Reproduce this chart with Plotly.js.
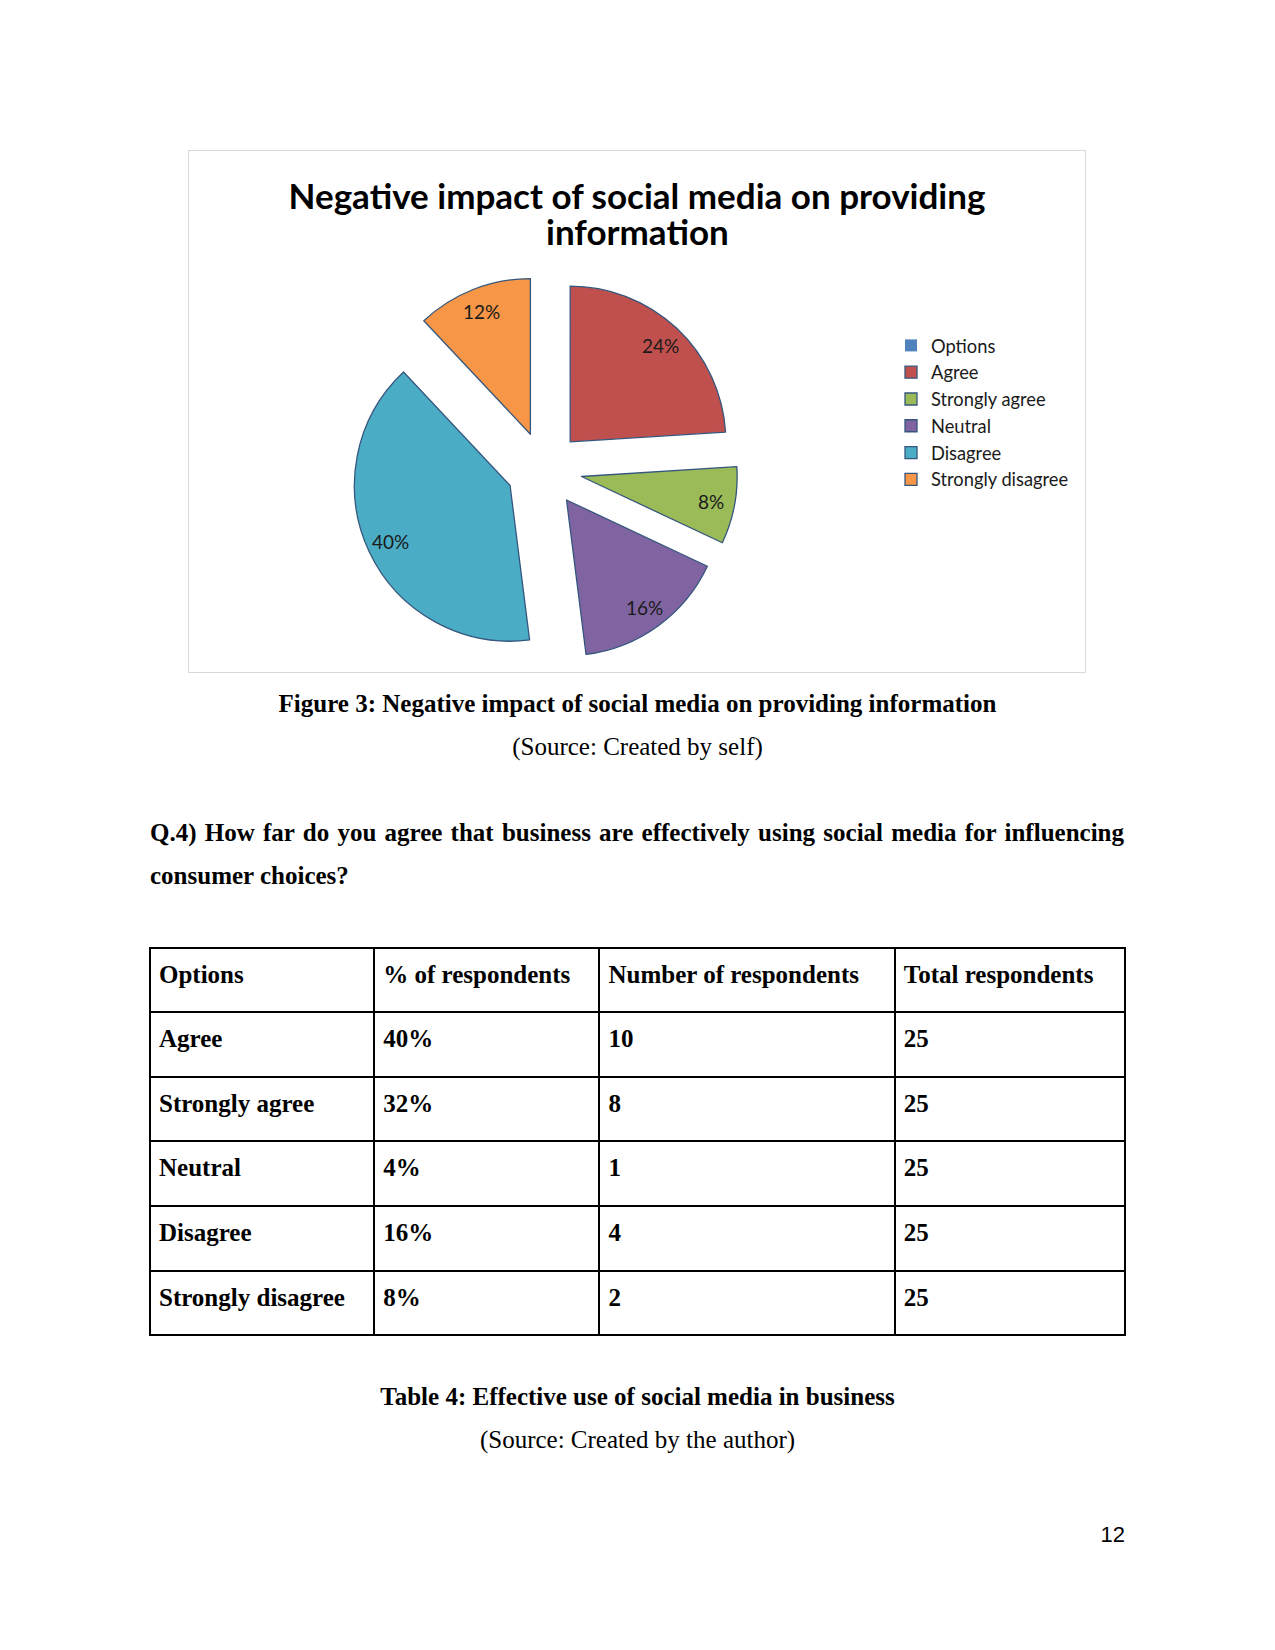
<!DOCTYPE html>
<html>
<head>
<meta charset="utf-8">
<script src="https://cdn.plot.ly/plotly-3.0.1.min.js"></script>
<style>
  html, body { margin: 0; padding: 0; background: #fff; }
  #page { position: relative; width: 1275px; height: 1650px; background: #fff; overflow: hidden; }
  .serif { font-family: "Liberation Serif", "Times New Roman", serif; font-size: 25px; color: #000; }
  .center { position: absolute; left: 0; width: 1275px; text-align: center; line-height: 43px; }
  #chartBox { position: absolute; left: 188px; top: 150px; width: 896px; height: 521px; border: 1px solid #d9d9d9; }
  #chart { width: 896px; height: 521px; }
  #q4 { position: absolute; left: 150px; width: 974px; top: 811px; text-align: justify; text-align-last: left; line-height: 43px; font-weight: bold; }
  #tableDiv { position: absolute; left: 148px; top: 946px; width: 979px; height: 396px; }
  #pnum { position: absolute; right: 150px; top: 1522px; font-family: "Liberation Sans", Arial, sans-serif; font-size: 22px; color: #000; }
</style>
</head>
<body>
<div id="page">
  <div id="chartBox"><div id="chart"></div></div>
  <div class="serif center" style="top:682px; font-weight:bold;">Figure 3: Negative impact of social media on providing information</div>
  <div class="serif center" style="top:725px;">(Source: Created by self)</div>
  <div id="q4" class="serif">Q.4) How far do you agree that business are effectively using social media for influencing consumer choices?</div>
  <div id="tableDiv"></div>
  <div class="serif center" style="top:1375px; font-weight:bold;">Table 4: Effective use of social media in business</div>
  <div class="serif center" style="top:1418px;">(Source: Created by the author)</div>
  <div id="pnum">12</div>
</div>
<script>
// ---- Pie chart data ----
const pieLabels = ['Options', 'Agree', 'Strongly agree', 'Neutral', 'Disagree', 'Strongly disagree'];
const pieValues = [0, 24, 8, 16, 40, 12];
const pieColors = ['#4F81BD', '#C0504D', '#9BBB59', '#8064A2', '#4BACC6', '#F79646'];
const titleLines = ['Negative impact of social media on providing', 'information'];

// ---- Table data ----
const tableHeader = ['Options', '% of respondents', 'Number of respondents', 'Total respondents'];
const tableOptions = ['Agree', 'Strongly agree', 'Neutral', 'Disagree', 'Strongly disagree'];
const tablePercent = ['40%', '32%', '4%', '16%', '8%'];
const tableNumber = ['10', '8', '1', '4', '2'];
const tableTotal = ['25', '25', '25', '25', '25'];

// ---- Chart layout constants ----
const W = 896, H = 521;
const cx = 355.3, cyTop = 318.4;       // pie center in px (from top-left of chart)
const half = 193.5;                     // half size of pie domain in px
const pull = 0.243;
const r = half / (1 + pull);
const labelFrac = 0.85;
const sansFont = 'Lato, "Open Sans", sans-serif';

const cyBottom = H - cyTop;
const domainX = [(cx - half) / W, (cx + half) / W];
const domainY = [(cyBottom - half) / H, (cyBottom + half) / H];

const total = pieValues.reduce((a, b) => a + b, 0);
let cum = 0;
const annotations = [];
pieValues.forEach((v, i) => {
  const mid = (cum + v / 2) / total * 2 * Math.PI;
  cum += v;
  if (v <= 0) return;
  const d = (pull + labelFrac) * r;
  annotations.push({
    xref: 'paper', yref: 'paper',
    x: (cx + d * Math.sin(mid)) / W,
    y: (cyBottom + d * Math.cos(mid)) / H,
    text: Math.round(v / total * 100) + '%',
    showarrow: false,
    font: { family: sansFont, size: 19, color: '#1a1a1a' },
    xanchor: 'center', yanchor: 'middle'
  });
});

// second title line
annotations.push({
  xref: 'paper', yref: 'paper',
  x: 0.5, y: 1 - 79.5 / H,
  text: titleLines[1],
  showarrow: false,
  font: { family: sansFont, size: 35, color: '#000', weight: 700 },
  xanchor: 'center', yanchor: 'middle'
});

const pieTrace = {
  type: 'pie',
  labels: pieLabels,
  values: pieValues,
  sort: false,
  direction: 'clockwise',
  rotation: 0,
  pull: pieValues.map(() => pull),
  textinfo: 'none',
  hoverinfo: 'label+percent',
  domain: { x: domainX, y: domainY },
  marker: {
    colors: pieColors,
    line: { color: '#35577d', width: pieValues.map(v => v > 0 ? 1.3 : 0) }
  }
};

const layout = {
  width: W, height: H,
  margin: { l: 0, r: 0, t: 0, b: 0 },
  paper_bgcolor: '#fff',
  plot_bgcolor: '#fff',
  showlegend: true,
  title: {
    text: titleLines[0],
    font: { family: sansFont, size: 35, color: '#000', weight: 700 },
    x: 0.5, xanchor: 'center',
    y: 1 - 45.7 / H, yanchor: 'middle', yref: 'container'
  },
  legend: {
    x: 702 / W, xanchor: 'left',
    y: 1 - 176 / H, yanchor: 'top',
    font: { family: sansFont, size: 18.3, color: '#1a1a1a' },
    bgcolor: 'rgba(0,0,0,0)',
    traceorder: 'normal'
  },
  annotations: annotations
};

Plotly.newPlot('chart', [pieTrace], layout, { staticPlot: true, displayModeBar: false });

// ---- Table ----
const cellText = s => '<b>' + s + '</b>';
const serifFont = { family: '"Liberation Serif", "Times New Roman", serif', size: 25, color: '#000' };
const tableTrace = {
  type: 'table',
  columnwidth: [224, 225, 295, 230],
  header: {
    values: tableHeader.map(cellText),
    align: 'left',
    height: 64,
    line: { color: '#000', width: 2 },
    fill: { color: '#fff' },
    font: serifFont
  },
  cells: {
    values: [
      tableOptions.map(cellText),
      tablePercent.map(cellText),
      tableNumber.map(cellText),
      tableTotal.map(cellText)
    ],
    align: 'left',
    height: 64.7,
    line: { color: '#000', width: 2 },
    fill: { color: '#fff' },
    font: serifFont
  },
  domain: { x: [0, 1], y: [0, 1] }
};

Plotly.newPlot('tableDiv', [tableTrace], {
  width: 979, height: 396,
  margin: { l: 2, r: 2, t: 2, b: 2 },
  paper_bgcolor: '#fff'
}, { staticPlot: true, displayModeBar: false }).then(function (gd) {
  // nudge cell text down slightly to sit like the reference's vertical padding
  gd.querySelectorAll('text.cell-text').forEach(function (t) {
    const prev = t.getAttribute('transform') || '';
    t.setAttribute('transform', prev + ' translate(1,5)');
  });
});
</script>
</body>
</html>
